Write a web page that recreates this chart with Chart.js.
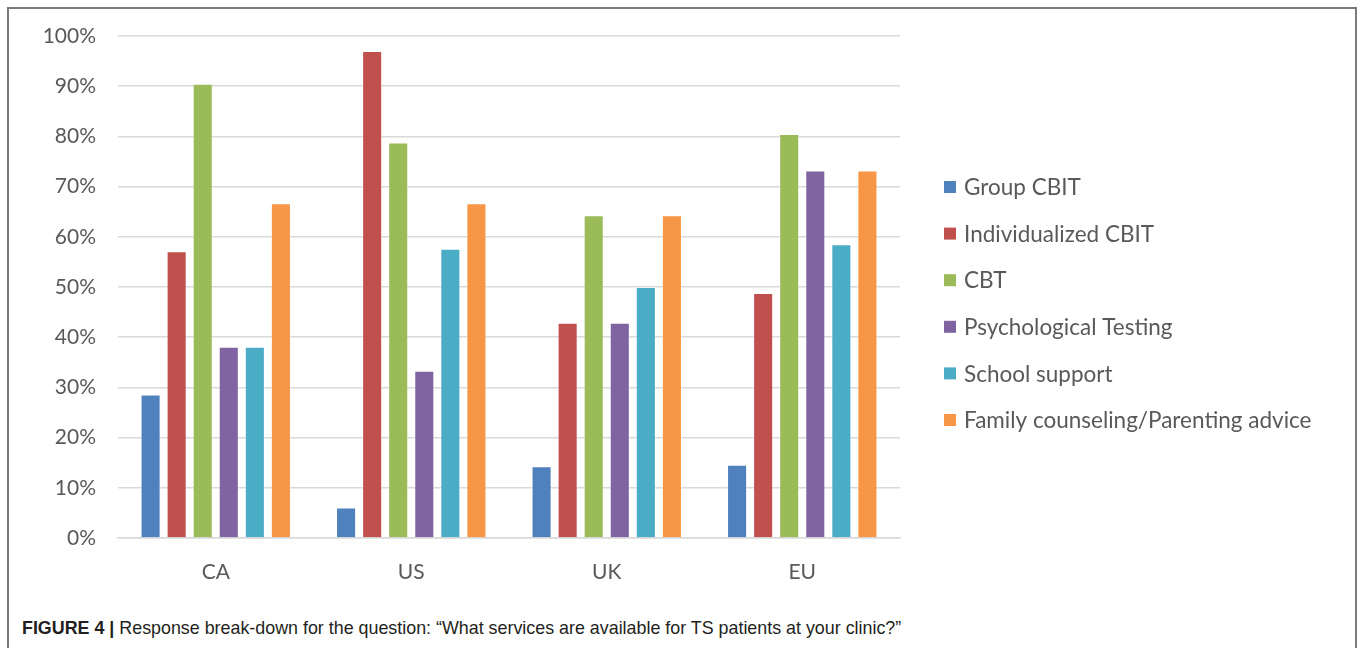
<!DOCTYPE html>
<html lang="en">
<head>
    <meta charset="UTF-8">
    <title>Figure 4</title>
    <style>
        body {
            margin: 0;
            background-color: #ffffff;
            width: 1357px;
            height: 648px;
            overflow: hidden;
            position: relative;
        }
        .frame {
            position: absolute;
            left: 7px;
            top: 7px;
            width: 1346px;
            height: 660px;
            border: 2px solid #7a7a7a;
        }
        .chart-box {
            position: absolute;
            left: 0;
            top: 0;
            width: 1357px;
            height: 600px;
        }
        .caption {
            position: absolute;
            left: 22px;
            top: 617px;
            font-family: "Liberation Sans", Arial, sans-serif;
            font-size: 19px;
            color: #231f20;
            white-space: nowrap;
            transform: scaleX(0.94);
            transform-origin: left top;
        }
        .caption b {
            font-weight: bold;
        }
    </style>
</head>
<body>
    <div class="frame"></div>
    <div class="chart-box">
        <canvas id="servicesChart" width="1357" height="600"></canvas>
    </div>
    <div class="caption"><b>FIGURE 4 |</b> Response break-down for the question: “What services are available for TS patients at your clinic?”</div>

    <script src="https://cdn.jsdelivr.net/npm/chart.js"></script>
    <script>
        // regions on the x axis
        const regions = ["CA", "US", "UK", "EU"];
        const yTicks = [0, 10, 20, 30, 40, 50, 60, 70, 80, 90, 100];

        // percent of clinics offering each service
        const groupCbit = [28.6, 6.1, 14.3, 14.6];
        const individualCbit = [57.1, 97.0, 42.9, 48.8];
        const cbt = [90.5, 78.8, 64.3, 80.5];
        const psychTesting = [38.1, 33.3, 42.9, 73.2];
        const schoolSupport = [38.1, 57.6, 50.0, 58.5];
        const familyCounseling = [66.7, 66.7, 64.3, 73.2];

        const serviceNames = ["Group CBIT", "Individualized CBIT", "CBT", "Psychological Testing", "School support", "Family counseling/Parenting advice"];
        const serviceColors = ["#4f81bd", "#c0504d", "#9bbb59", "#8064a2", "#4bacc6", "#f79646"];
        const serviceData = [groupCbit, individualCbit, cbt, psychTesting, schoolSupport, familyCounseling];

        const labelFont = { family: "Lato", size: 21 };
        const labelColor = "#595959";

        // legend drawn to the right of the plot, like the Excel original
        const sideLegend = {
            id: "sideLegend",
            afterDraw(chart) {
                const ctx = chart.ctx;
                const x = chart.chartArea.right + 44;
                ctx.save();
                ctx.font = "22.5px Lato";
                ctx.textBaseline = "middle";
                chart.data.datasets.forEach((ds, i) => {
                    const y = 187 + i * 46.6;
                    ctx.fillStyle = ds.backgroundColor;
                    ctx.fillRect(x, y - 6, 12, 12);
                    ctx.fillStyle = labelColor;
                    ctx.fillText(ds.label, x + 20, y + 1);
                });
                ctx.restore();
            }
        };

        const ctx = document.getElementById("servicesChart").getContext("2d");
        new Chart(ctx, {
            type: "bar",
            data: {
                labels: regions,
                datasets: serviceNames.map((name, i) => ({
                    label: name,
                    data: serviceData[i],
                    backgroundColor: serviceColors[i],
                    borderColor: "rgba(255,255,255,0.35)",
                    borderWidth: 1,
                    categoryPercentage: 0.8,
                    barPercentage: 0.77
                }))
            },
            options: {
                responsive: false,
                animation: false,
                layout: {
                    padding: { left: 0, right: 457, top: 36, bottom: 0 }
                },
                plugins: {
                    legend: { display: false },
                    tooltip: { enabled: false }
                },
                scales: {
                    x: {
                        grid: { display: false },
                        border: { color: "#d9d9d9", width: 1.5 },
                        ticks: {
                            color: labelColor,
                            font: labelFont,
                            padding: 14
                        },
                        afterFit(scale) {
                            scale.height = 62;
                        }
                    },
                    y: {
                        min: 0,
                        max: 100,
                        afterBuildTicks(scale) {
                            scale.ticks = yTicks.map(v => ({ value: v }));
                        },
                        grid: {
                            color: "#d9d9d9",
                            lineWidth: 1.5,
                            drawTicks: false
                        },
                        border: { display: false },
                        ticks: {
                            color: labelColor,
                            font: labelFont,
                            padding: 22,
                            callback: v => v + "%"
                        },
                        afterFit(scale) {
                            scale.width = 118;
                        }
                    }
                }
            },
            plugins: [sideLegend]
        });
    </script>
</body>
</html>
